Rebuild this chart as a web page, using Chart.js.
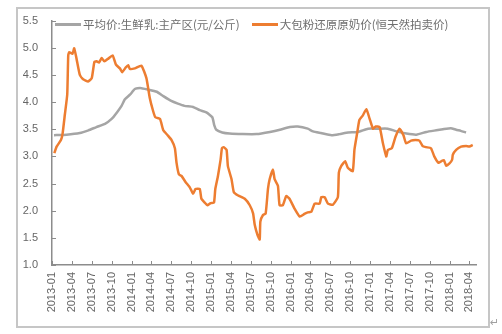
<!DOCTYPE html>
<html>
<head>
<meta charset="utf-8">
<script src="https://cdn.jsdelivr.net/npm/chart.js@4.4.1/dist/chart.umd.min.js"></script>
<style>
    body { margin: 0; background: #fff; }
    .frame { position: absolute; left: 16px; top: 7px; width: 470px; height: 317px; border: 2px solid #c6c6c6; }
    .wrap { position: absolute; left: 0; top: 0; width: 502px; height: 334px; }
    #legend { position: absolute; left: 55px; top: 16px; display: flex; font: 11.5px "Noto Sans CJK SC"; color: #6e6e6e; white-space: nowrap; }
    .legend-item { display: flex; align-items: center; margin-right: 12px; }
    .color-line { width: 26px; height: 3px; margin-right: 2px; }
    .para { position: absolute; left: 490px; top: 316px; font: 11px "DejaVu Sans"; color: #a0a0a0; }
</style>
</head>
<body>
<div class="frame"></div>
<div class="wrap">
    <canvas id="priceChart" width="502" height="334"></canvas>
    <div id="legend"></div>
</div>
<div class="para">↵</div>
<script>
// x positions are months counted from 2013-01
const tickLabels = ['2013-01', '2013-04', '2013-07', '2013-10', '2014-01', '2014-04', '2014-07', '2014-10',
    '2015-01', '2015-04', '2015-07', '2015-10', '2016-01', '2016-04', '2016-07', '2016-10',
    '2017-01', '2017-04', '2017-07', '2017-10', '2018-01', '2018-04']

const seriesNames = ['平均价:生鲜乳:主产区(元/公斤)', '大包粉还原原奶价(恒天然拍卖价)']

const milkMonths = [0.3, 2.2, 4.2, 5.5, 6.7, 8.0, 9.0, 9.8, 10.5, 11.0, 11.8, 12.5, 13.3, 14.5, 15.8, 16.8,
    18.0, 19.0, 20.0, 21.3, 22.3, 23.3, 24.2, 24.5, 24.8, 25.7, 26.8, 28.8, 30.9, 32.9, 34.4, 35.9,
    37.1, 38.6, 39.4, 40.6, 42.2, 43.4, 44.7, 46.2, 47.7, 49.2, 50.7, 52.0, 53.5, 55.0, 56.5, 58.0,
    59.0, 60.2, 61.0, 61.7, 62.5]
const milkPrice = [3.39, 3.40, 3.43, 3.48, 3.54, 3.60, 3.69, 3.81, 3.93, 4.05, 4.14, 4.24, 4.26, 4.23, 4.19, 4.11,
    4.02, 3.97, 3.93, 3.91, 3.85, 3.81, 3.72, 3.57, 3.49, 3.44, 3.42, 3.41, 3.41, 3.45, 3.49, 3.54,
    3.55, 3.51, 3.46, 3.43, 3.39, 3.41, 3.44, 3.45, 3.51, 3.51, 3.51, 3.46, 3.42, 3.40, 3.45, 3.48,
    3.50, 3.52, 3.49, 3.47, 3.44]

const powderMonths = [0.35, 0.7, 1.35, 1.6, 1.95, 2.3, 2.45, 2.6, 3.1, 3.35, 3.7, 4.2, 4.7, 5.45, 6.0, 6.4,
    6.75, 7.1, 7.5, 7.9, 8.5, 9.15, 9.65, 10.25, 10.6, 11.15, 11.5, 11.75, 12.5, 13.5, 14.25, 14.75,
    15.25, 15.6, 16.3, 16.8, 17.45, 18.05, 18.55, 18.8, 19.15, 19.55, 20.15, 20.8, 21.3, 21.65, 22.3, 22.55,
    23.05, 23.45, 23.95, 24.45, 24.65, 25.05, 25.45, 25.65, 25.9, 26.35, 26.55, 27.1, 27.45, 28.1, 29.1, 29.85,
    30.35, 30.6, 31.0, 31.35, 31.45, 31.85, 32.25, 32.6, 32.85, 33.35, 33.6, 34.1, 34.35, 34.85, 35.35, 35.85,
    36.6, 37.4, 38.1, 38.6, 39.15, 39.65, 40.4, 40.65, 41.15, 41.65, 42.4, 43.15, 43.3, 43.65, 44.25, 44.65,
    45.4, 45.65, 46.05, 46.4, 46.9, 47.45, 47.95, 48.45, 48.85, 49.45, 49.95, 50.45, 50.7, 51.3, 51.85, 52.45,
    53.05, 53.45, 54.2, 54.85, 55.45, 55.95, 56.45, 57.2, 57.7, 58.35, 58.75, 59.15, 59.5, 60.0, 60.4, 60.5,
    61.0, 61.75, 62.5, 63.0, 63.5]
const powderPrice = [3.06, 3.18, 3.30, 3.42, 3.78, 4.14, 4.86, 4.92, 4.89, 4.99, 4.80, 4.50, 4.42, 4.38, 4.44, 4.74,
    4.75, 4.73, 4.81, 4.75, 4.80, 4.86, 4.69, 4.62, 4.55, 4.64, 4.68, 4.61, 4.62, 4.67, 4.44, 4.08,
    3.84, 3.72, 3.69, 3.48, 3.39, 3.30, 3.15, 2.88, 2.67, 2.64, 2.53, 2.43, 2.31, 2.40, 2.40, 2.22,
    2.15, 2.10, 2.14, 2.15, 2.40, 2.64, 2.94, 3.15, 3.17, 3.12, 2.82, 2.58, 2.34, 2.28, 2.22, 2.10,
    1.95, 1.74, 1.56, 1.47, 1.80, 1.92, 1.95, 2.40, 2.58, 2.76, 2.58, 2.46, 2.10, 2.10, 2.27, 2.22,
    2.04, 1.89, 1.94, 1.97, 1.98, 2.13, 2.13, 2.25, 2.25, 2.13, 2.11, 2.25, 2.70, 2.82, 2.91, 2.79,
    2.73, 3.12, 3.42, 3.67, 3.75, 3.87, 3.69, 3.51, 3.55, 3.54, 3.24, 3.00, 3.12, 3.15, 3.36, 3.51,
    3.39, 3.24, 3.29, 3.30, 3.29, 3.19, 3.17, 3.15, 3.00, 2.88, 2.91, 2.93, 2.83, 2.87, 2.94, 3.03,
    3.12, 3.18, 3.19, 3.18, 3.21]

const axisColor = '#8c8c8c'
const labelColor = '#666666'

const toPoints = (months, values) => months.map((m, i) => ({ x: m, y: values[i] }))

// short tick marks pointing into the plot
const innerTicks = {
    id: 'innerTicks',
    afterDraw(chart) {
        const { ctx, chartArea, scales: { x, y } } = chart
        ctx.save()
        ctx.strokeStyle = axisColor
        ctx.lineWidth = 1
        ctx.beginPath()
        x.ticks.forEach(t => {
            const px = Math.round(x.getPixelForValue(t.value)) + 0.5
            ctx.moveTo(px, chartArea.bottom)
            ctx.lineTo(px, chartArea.bottom - 4)
        })
        y.ticks.forEach(t => {
            const py = Math.round(y.getPixelForValue(t.value)) + 0.5
            ctx.moveTo(chartArea.left, py)
            ctx.lineTo(chartArea.left + 4, py)
        })
        ctx.stroke()
        ctx.restore()
    }
}

const data = {
    datasets: [{
        label: seriesNames[0],
        data: toPoints(milkMonths, milkPrice),
        borderColor: '#a5a5a5',
        borderWidth: 2.5,
        tension: 0.15,
        order: 1
    }, {
        label: seriesNames[1],
        data: toPoints(powderMonths, powderPrice),
        borderColor: '#ed7d31',
        borderWidth: 2.5,
        tension: 0.15,
        order: 0
    }]
}

const tickFont = { family: 'Liberation Sans', size: 11 }

const config = {
    type: 'line',
    data: data,
    options: {
        responsive: false,
        animation: false,
        layout: { padding: { top: 15, right: 26, left: 0, bottom: 0 } },
        elements: { point: { radius: 0 } },
        plugins: {
            legend: { display: false },
            tooltip: { enabled: false }
        },
        scales: {
            x: {
                type: 'linear',
                min: 0,
                max: 64,
                afterBuildTicks: axis => { axis.ticks = tickLabels.map((_, i) => ({ value: i * 3 })) },
                afterFit: axis => { axis.height = 69 },
                grid: { display: false, drawTicks: false },
                border: { color: axisColor, width: 1.5 },
                ticks: {
                    autoSkip: false,
                    minRotation: 90,
                    maxRotation: 90,
                    padding: 7,
                    color: labelColor,
                    font: tickFont,
                    callback: value => tickLabels[Math.round(value / 3)]
                }
            },
            y: {
                min: 1,
                max: 5.5,
                afterFit: axis => { axis.width = 52 },
                grid: { display: false, drawTicks: false },
                border: { color: axisColor, width: 1.5 },
                ticks: {
                    stepSize: 0.5,
                    padding: 14,
                    color: labelColor,
                    font: tickFont,
                    callback: value => value.toFixed(1)
                }
            }
        }
    },
    plugins: [innerTicks]
}

const priceChart = new Chart(document.getElementById('priceChart'), config)

const legendContainer = document.getElementById('legend')
data.datasets.forEach(ds => {
    const legendItem = document.createElement('div')
    legendItem.className = 'legend-item'
    legendItem.innerHTML = `<div class="color-line" style="background-color: ${ds.borderColor}"></div>${ds.label}`
    legendContainer.appendChild(legendItem)
})
</script>
</body>
</html>
